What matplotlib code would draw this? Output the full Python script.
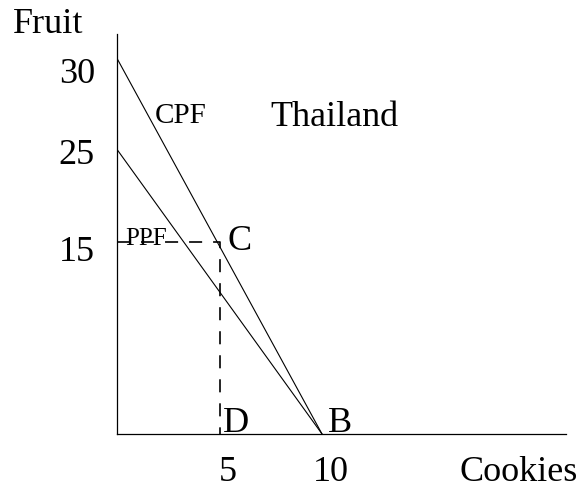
import matplotlib
matplotlib.use('Agg')
import matplotlib.pyplot as plt
from matplotlib.transforms import ScaledTranslation

plt.rcParams['font.family'] = ['Liberation Serif', 'DejaVu Serif']
plt.rcParams['lines.scale_dashes'] = False

# frontier end points as drawn (cookies, fruit)
cpf_cookies = [0, 10]
cpf_fruit = [29.3, 0]
ppf_cookies = [0, 10]
ppf_fruit = [22.2, 0]

# point C (consumption) and D (its cookie value)
c_cookies = 5
c_fruit = 15

cookie_ticks = [5, 10]
cookie_labels = ['5', '10']
fruit_ticks = [28.35, 22.0, 14.5]
fruit_labels = ['30', '25', '15']

fig = plt.figure(figsize=(5.85, 4.88), dpi=100)
ax = fig.add_axes([117 / 585, 54 / 488, 449 / 585, 400 / 488])
ax.set_xlim(0, 21.9)
ax.set_ylim(0, 31.2)

ax.plot(cpf_cookies, cpf_fruit, color='black', linewidth=0.8)
ax.plot(ppf_cookies, ppf_fruit, color='black', linewidth=0.8)
ax.plot([0, c_cookies, c_cookies], [c_fruit, c_fruit, 0], color='black',
        linewidth=1.2, dashes=(9.4, 7.9))

for s in ['top', 'right']:
    ax.spines[s].set_visible(False)
for s in ['left', 'bottom']:
    ax.spines[s].set_linewidth(0.9)

big = 26
ax.set_xticks(cookie_ticks)
ax.set_xticklabels(cookie_labels, fontsize=big)
ax.set_yticks(fruit_ticks)
ax.set_yticklabels(fruit_labels, fontsize=big)
ax.tick_params(axis='both', length=0)
ax.tick_params(axis='x', pad=16)
ax.tick_params(axis='y', pad=16)
shift = ScaledTranslation(8.5 / 100, 0, fig.dpi_scale_trans)
for lab in ax.get_xticklabels():
    lab.set_transform(lab.get_transform() + shift)

ax.text(-5.07, 31.28, 'Fruit', fontsize=big, va='baseline', clip_on=False)
ax.text(16.7, -3.67, 'Cookies', fontsize=big, va='baseline', clip_on=False)
ax.text(7.46, 24.0, 'Thailand', fontsize=big, va='baseline')
ax.text(1.85, 24.26, 'CPF', fontsize=21, va='baseline')
ax.text(0.39, 14.74, 'PPF', fontsize=18, va='baseline')
ax.text(5.41, 14.35, 'C', fontsize=big, va='baseline')
ax.text(5.17, 0.16, 'D', fontsize=big, va='baseline')
ax.text(10.29, 0.16, 'B', fontsize=big, va='baseline')

fig.savefig('out.png', dpi=100)
